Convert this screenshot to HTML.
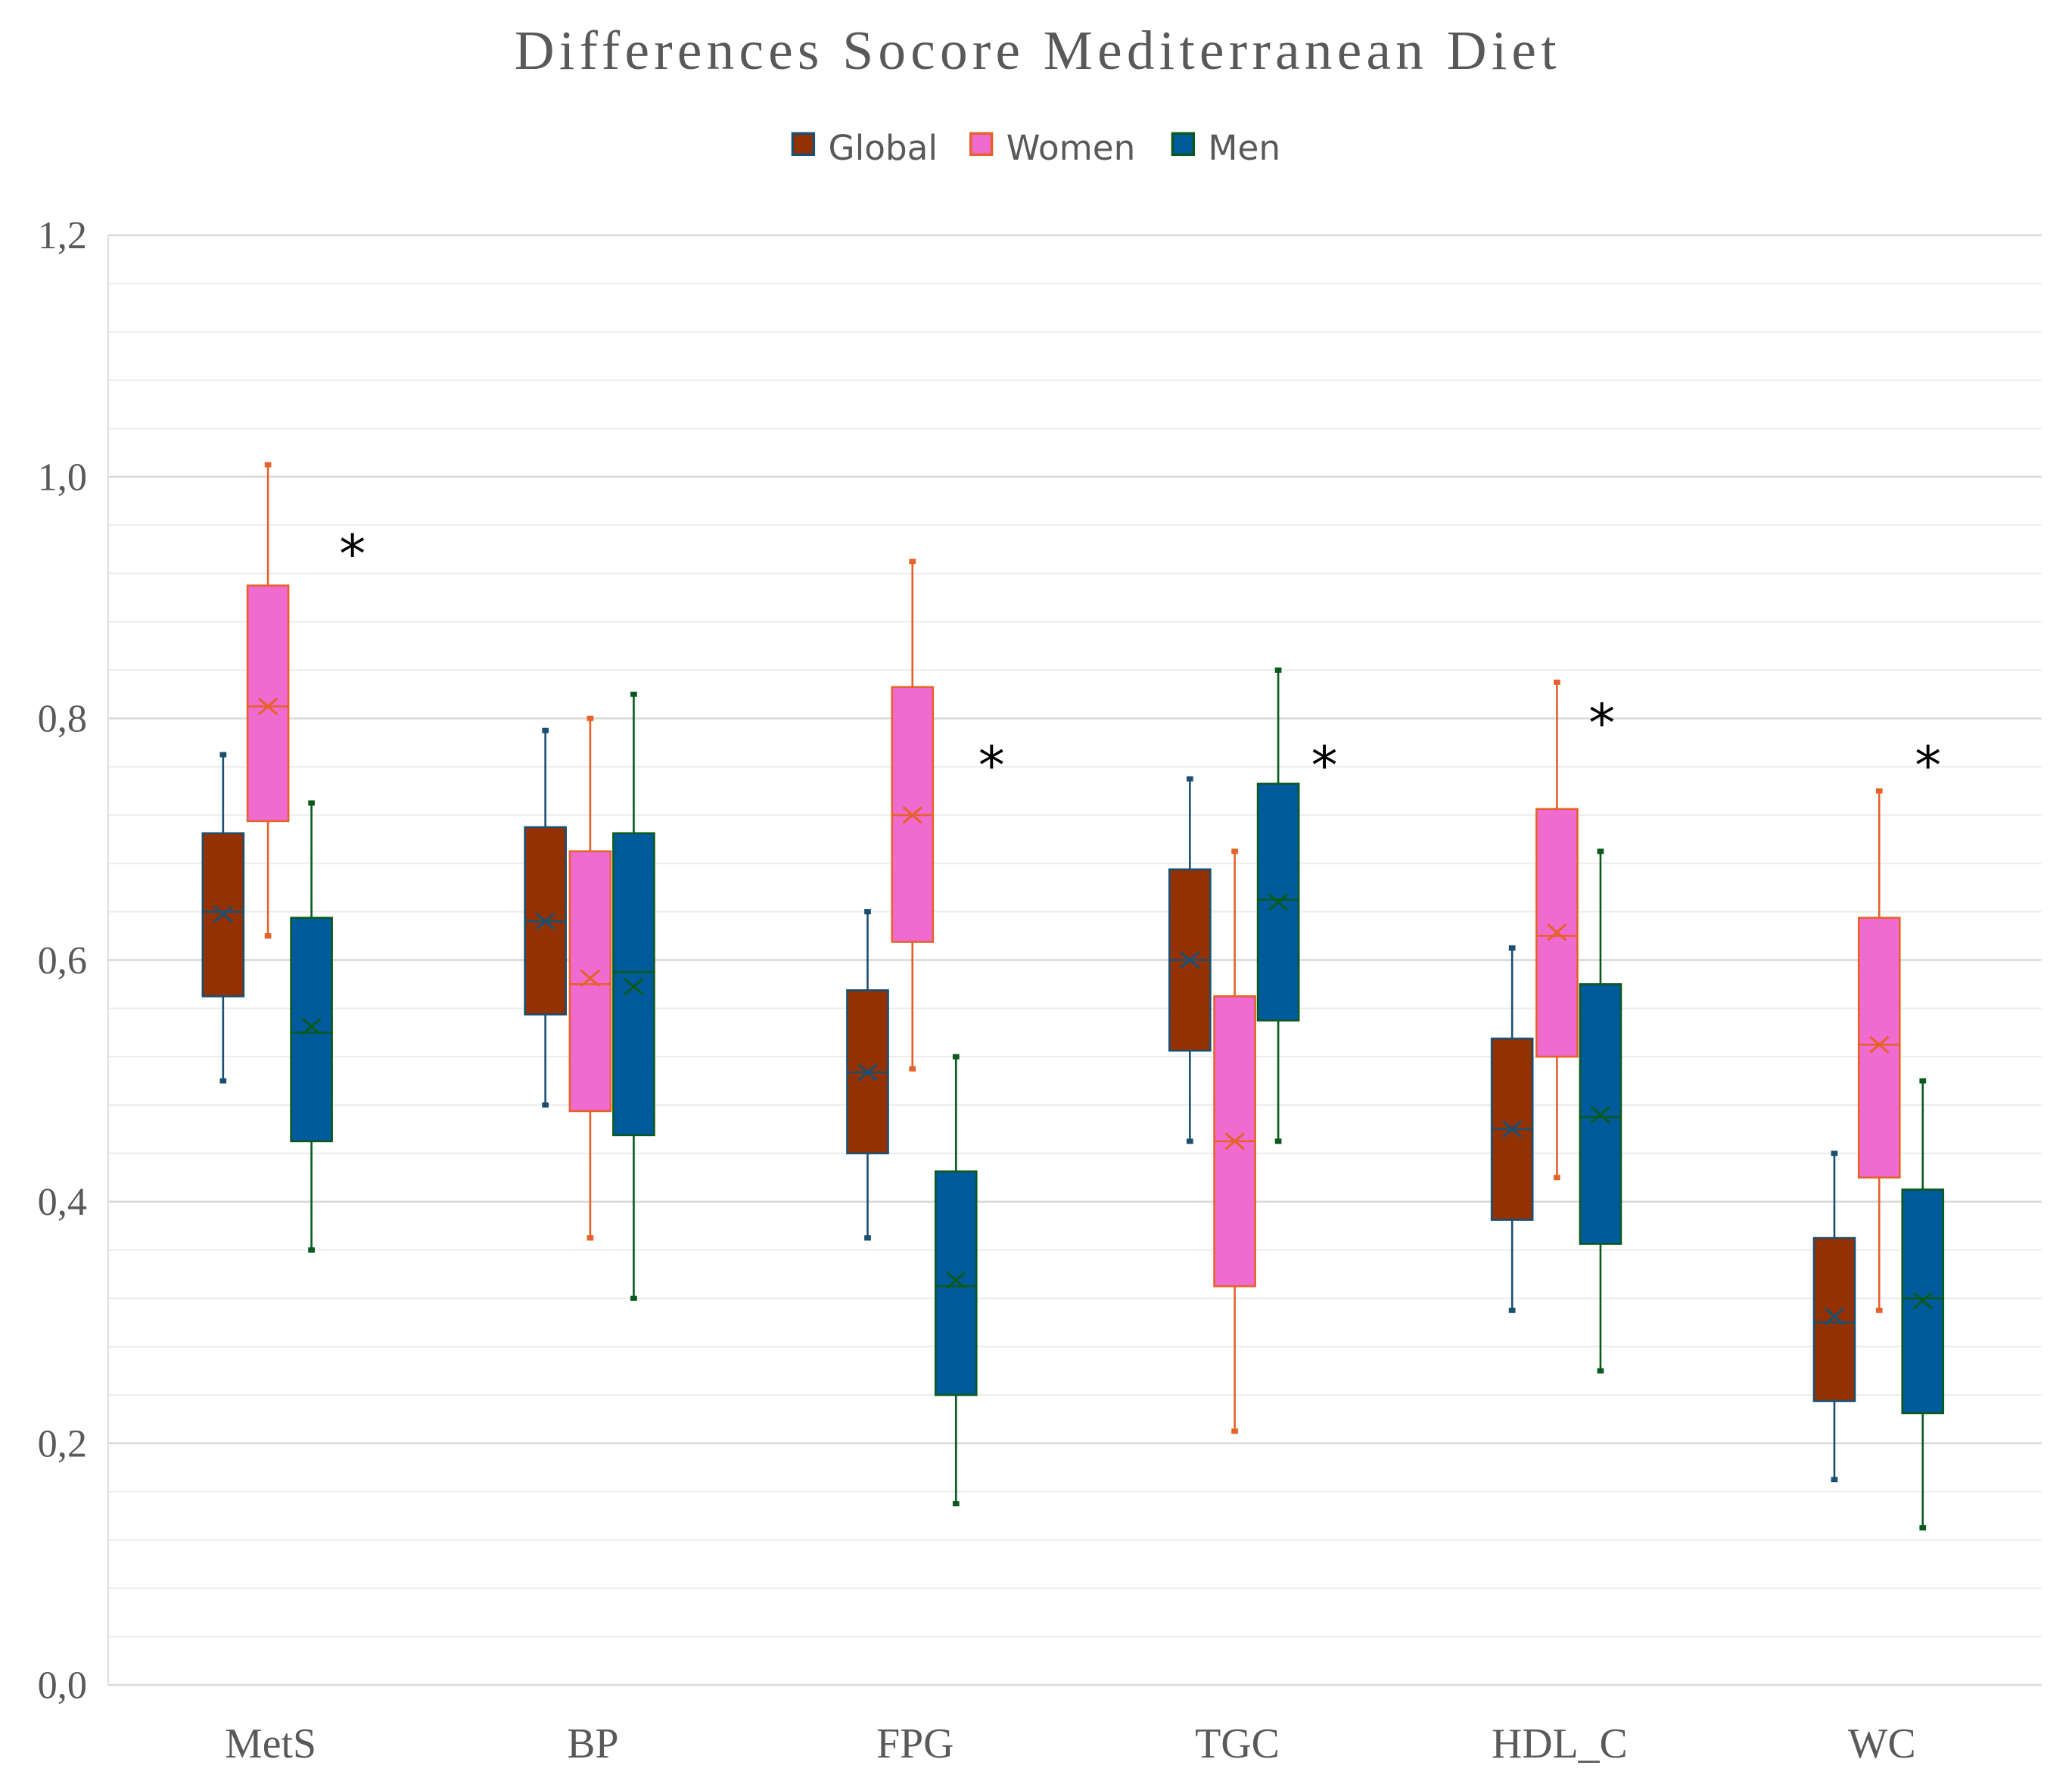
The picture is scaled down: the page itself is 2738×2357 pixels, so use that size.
<!DOCTYPE html>
<html><head><meta charset="utf-8"><style>
html,body{margin:0;padding:0;background:#fff;}
svg{display:block;}
</style></head><body>
<svg id="chart" width="2738" height="2357" viewBox="0 0 1571 1350" preserveAspectRatio="none" xmlns="http://www.w3.org/2000/svg">
<rect x="0" y="0" width="1571" height="1350" fill="#fff"/>
<text x="785" y="52" text-anchor="middle" font-family="Liberation Serif, serif" font-size="42" fill="#595959" textLength="790">Differences Socore Mediterranean Diet</text>
<g font-family="DejaVu Sans, Liberation Sans, sans-serif" font-size="26" fill="#595959">
 <g><rect x="601" y="101" width="16" height="16" fill="#943100" stroke="#1b4f72" stroke-width="2"/><text x="628" y="121">Global</text></g>
 <g><rect x="736" y="101" width="16" height="16" fill="#f06bcf" stroke="#e5622a" stroke-width="2"/><text x="763" y="121">Women</text></g>
 <g><rect x="889" y="101" width="16" height="16" fill="#005a9c" stroke="#0a5a1e" stroke-width="2"/><text x="916" y="121">Men</text></g>
</g>
<g id="grid"></g><g id="axes"></g><g id="marks"></g>
</svg>
<script>
const categories = ["MetS","BP","FPG","TGC","HDL_C","WC"];
const seriesNames = ["Global","Women","Men"];
const globalMin = [0.50,0.48,0.37,0.45,0.31,0.17];
const globalQ1 = [0.57,0.555,0.44,0.525,0.385,0.235];
const globalMed = [0.64,0.632,0.507,0.60,0.46,0.30];
const globalQ3 = [0.705,0.71,0.575,0.675,0.535,0.37];
const globalMax = [0.77,0.79,0.64,0.75,0.61,0.44];
const globalMean = [0.638,0.632,0.507,0.60,0.46,0.305];
const womenMin = [0.62,0.37,0.51,0.21,0.42,0.31];
const womenQ1 = [0.715,0.475,0.615,0.33,0.52,0.42];
const womenMed = [0.81,0.58,0.72,0.45,0.62,0.53];
const womenQ3 = [0.91,0.69,0.826,0.57,0.725,0.635];
const womenMax = [1.01,0.80,0.93,0.69,0.83,0.74];
const womenMean = [0.81,0.585,0.72,0.45,0.623,0.53];
const menMin = [0.36,0.32,0.15,0.45,0.26,0.13];
const menQ1 = [0.45,0.455,0.24,0.55,0.365,0.225];
const menMed = [0.54,0.59,0.33,0.65,0.47,0.32];
const menQ3 = [0.635,0.705,0.425,0.746,0.58,0.41];
const menMax = [0.73,0.82,0.52,0.84,0.69,0.50];
const menMean = [0.545,0.578,0.335,0.648,0.472,0.318];
const significant = [true,false,true,true,true,true];
const starValue = [0.945,0.77,0.77,0.77,0.805,0.77];
const yTicks = ["0,0","0,2","0,4","0,6","0,8","1,0","1,2"];
const yTickValues = [0,0.2,0.4,0.6,0.8,1.0,1.2];

const NS="http://www.w3.org/2000/svg";
const L=82,R=1548,T=178,B=1275,YMAX=1.2;
const starDx=[63,59,59,67,33,36];
const y=v=>B-(v/YMAX)*(B-T);
const band=(R-L)/categories.length;
const xc=i=>L+band*(i+0.5);
function mk(tag,attrs,parent){const e=document.createElementNS(NS,tag);for(const k in attrs)e.setAttribute(k,attrs[k]);parent.appendChild(e);return e;}
const grid=document.getElementById('grid'),axes=document.getElementById('axes'),marks=document.getElementById('marks');
for(let k=0;k<=30;k++){const v=k*0.04;const major=(k%5===0);
 const ln=mk('line',{x1:L,x2:R,y1:y(v),y2:y(v),stroke:major?'#d9d9d9':'#ededed','stroke-width':major?1.5:1.2},grid);
 
 }
const ax=mk('line',{x1:L,x2:L,y1:T,y2:B,stroke:'#d9d9d9','stroke-width':1},axes);

yTickValues.forEach((v,i)=>{const t=mk('text',{x:66,y:y(v)+10,'text-anchor':'end','font-family':'Liberation Serif, serif','font-size':30,fill:'#595959'},axes);t.textContent=yTicks[i];
 });
categories.forEach((c,i)=>{const t=mk('text',{x:xc(i)+1,y:1330,'text-anchor':'middle','font-family':'Liberation Serif, serif','font-size':32,fill:'#595959'},axes);t.textContent=c;
 });
const series=[
 {name:'global',mn:globalMin,q1:globalQ1,md:globalMed,q3:globalQ3,mx:globalMax,me:globalMean,fill:'#943100',stroke:'#1b4f72',off:-35},
 {name:'women',mn:womenMin,q1:womenQ1,md:womenMed,q3:womenQ3,mx:womenMax,me:womenMean,fill:'#f06bcf',stroke:'#e5622a',off:-1},
 {name:'men',mn:menMin,q1:menQ1,md:menMed,q3:menQ3,mx:menMax,me:menMean,fill:'#005a9c',stroke:'#0a5a1e',off:32}];
const W=31;
categories.forEach((c,i)=>{series.forEach(s=>{
 const cx=xc(i)+s.off;
 const g=mk('g',{},marks);
 
 
 mk('line',{x1:cx,x2:cx,y1:y(s.mx[i]),y2:y(s.q3[i]),stroke:s.stroke,'stroke-width':1.5},g);
 mk('line',{x1:cx,x2:cx,y1:y(s.q1[i]),y2:y(s.mn[i]),stroke:s.stroke,'stroke-width':1.5},g);
 mk('rect',{x:cx-2.5,y:y(s.mx[i])-2,width:5,height:4,fill:s.stroke},g);
 mk('rect',{x:cx-2.5,y:y(s.mn[i])-2,width:5,height:4,fill:s.stroke},g);
 mk('rect',{x:cx-W/2,y:y(s.q3[i]),width:W,height:y(s.q1[i])-y(s.q3[i]),fill:s.fill,stroke:s.stroke,'stroke-width':1.5},g);
 mk('line',{x1:cx-W/2,x2:cx+W/2,y1:y(s.md[i]),y2:y(s.md[i]),stroke:s.stroke,'stroke-width':1.5},g);
 const my=y(s.me[i]);
 mk('path',{d:`M${cx-7} ${my-6}L${cx+7} ${my+6}M${cx-7} ${my+6}L${cx+7} ${my-6}`,stroke:s.stroke,'stroke-width':1.8,fill:'none'},g);
 });
 if(significant[i]){const t=mk('text',{x:xc(i)+starDx[i],y:y(starValue[i])+22,'text-anchor':'middle','font-family':'DejaVu Sans, sans-serif','font-size':40,fill:'#000'},marks);t.textContent='*';
  }
});
</script>
</body></html>
